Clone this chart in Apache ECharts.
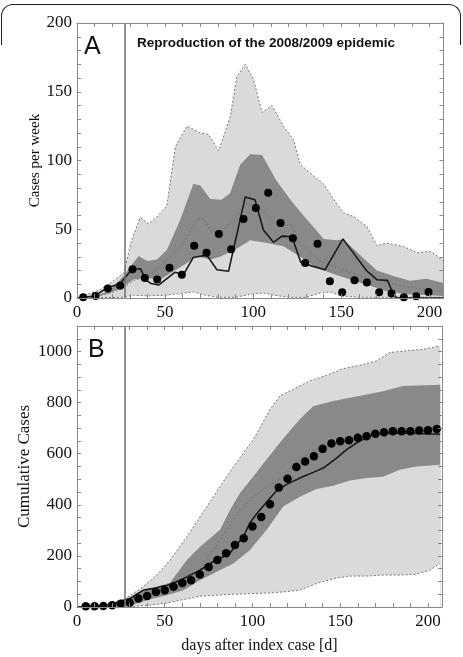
<!DOCTYPE html>
<html>
<head>
<meta charset="utf-8">
<script src="https://cdn.jsdelivr.net/npm/echarts@6/dist/echarts.min.js"></script>
<style>
html, body { margin: 0; padding: 0; background: #fff; }
#chart { width: 463px; height: 657px; }
.frame { position: absolute; left: 1px; top: 4px; width: 458px; height: 40px;
  border: 1.5px solid #222; border-bottom: none; border-radius: 12px 12px 0 0; pointer-events: none; }
</style>
</head>
<body>
<div id="chart"></div>
<div class="frame"></div>
<script>
// ---- panel A : cases per week ----
const weekDaysA = [3.5, 10.5, 17.5, 24.5, 31.5, 38.5, 45.5, 52.5, 59.5, 66.5, 73.5, 80.5, 87.5, 94.5, 101.5,
  108.5, 115.5, 122.5, 129.5, 136.5, 143.5, 150.5, 157.5, 164.5, 171.5, 178.5, 185.5, 192.5, 199.5];
const weeklyCases = [0.5, 1.5, 7, 9, 21, 14.5, 13.4, 22, 17, 38, 33, 46.5, 35.5, 57.5, 65.5,
  76.5, 54.5, 43.5, 25.5, 39.4, 12.2, 4.1, 12.9, 11.3, 4.1, 3.2, 0.5, 1.3, 4.3];

const simDaysA = [0, 10, 17, 24.5, 31, 36, 39, 42, 46.5, 55.5, 60.5, 66, 73.7, 79.4, 86, 95.5, 101, 105.8,
  111.5, 116.3, 122, 127, 134, 140.8, 150.9, 164.6, 170.2, 176.2, 179.2, 181.5, 208];
const simCasesA = [0, 1.5, 7.3, 10.5, 20.6, 21.3, 13.3, 10.5, 9.5, 18.7, 17.2, 29.5, 31.2, 20.6, 19.4, 73.5, 71.5, 49.5,
  40.5, 45, 44.5, 26, 23, 20.6, 43, 19.5, 13.3, 12.8, 3.6, 0, 0];

const medDaysA = [0, 10, 20, 27, 33, 41.6, 52.9, 60.5, 68, 71.8, 77.5, 82.2, 90.8, 96.4, 104, 111.5, 117.2, 121,
  126.7, 138, 153.2, 164.6, 174, 183.4, 192.9, 208];
const medCasesA = [0, 1, 4, 8, 13, 17, 30, 40, 57.5, 57.5, 47.5, 48.5, 59.5, 69, 64, 57, 52, 54,
  40, 27, 19.5, 14, 12, 9, 7, 4.5];

const hiOuterDaysA = [0, 13, 19, 26.5, 31, 35.9, 40.6, 45.4, 51, 55.8, 62.4, 69.9, 74.7, 80.4, 87, 90.7, 95.5, 100.2,
  105, 110.6, 117.2, 122.9, 126.7, 134.2, 139.9, 145.6, 151.2, 157.5, 164.5, 170.2, 175.8, 185.3, 192.8, 200.4, 205, 208];
const hiOuterA = [0, 6, 11, 18, 42, 58.5, 54, 59, 67, 110, 125, 120, 119, 107, 132, 161, 170, 159,
  135, 140, 125, 115, 97, 89, 83, 72, 62, 59, 52, 38, 40, 37.5, 33, 34, 30, 27];

const hiInnerDaysA = [0, 10, 18, 26.5, 31, 35, 39.8, 45.4, 51, 58.6, 66, 69.9, 75.6, 82, 86.8, 92.6, 98.3, 105,
  113.4, 122, 128.5, 134, 140, 147.5, 151, 155, 162.6, 170.2, 179.6, 189, 198.5, 208];
const hiInnerA = [0, 1.5, 5, 16, 24, 30.5, 27, 28, 35, 57, 83, 82, 72, 71.5, 76, 97, 104.5, 104,
  85, 70, 60, 52, 43, 42, 42.5, 38, 29, 20, 16, 12.5, 14, 11];

const loInnerDaysA = [0, 10, 18.9, 26.5, 32.2, 39.8, 47.3, 54.8, 62.4, 68, 75.6, 81.3, 90.8, 98.3, 107.8, 117.2,
  126.7, 136.1, 145.6, 155, 164.5, 175.8, 187.2, 198.5, 208];
const loInnerA = [0, 0.5, 3.6, 8.5, 13.4, 14.6, 13.4, 19.4, 25.5, 30.4, 28, 30, 36, 42, 40, 37.6,
  30, 22, 17.5, 13.5, 9.7, 5, 2.8, 2.2, 1.5];

const loOuterDaysA = [0, 26.5, 32, 40, 50, 58.6, 66, 73, 80, 90, 94.5, 100, 105.9, 112, 120, 130, 138, 143.7, 150, 160, 208];
const loOuterA = [0, 0.5, 2, 1.5, 2, 3.2, 4.4, 2, 0.5, 0.5, 1.7, 3, 3.6, 2, 0.5, 0.5, 3.6, 4.4, 1.5, 0.5, 0.5];

// ---- panel B : cumulative cases ----
const dotDaysB = [5, 10, 15, 20, 25, 30, 35, 40, 45, 50, 55, 60, 65, 70, 75, 80, 85, 90, 95, 100, 105,
  110, 115, 120, 125, 130, 135, 140, 145, 150, 155, 160, 165, 170, 175, 180, 185, 190, 195, 200, 205];
const cumCases = [2.6, 2.6, 3.9, 6.6, 13, 17, 33, 43, 59, 66, 79, 94, 105, 127, 157, 184, 210, 243, 269, 315, 352,
  402, 468, 502, 548, 570, 590, 619, 640, 649, 653, 663, 668, 678, 684, 688, 688, 688, 691, 692, 697];

const simDaysB = [0, 15, 20.9, 26.5, 30.3, 34, 37.9, 45.5, 49.3, 51.2, 58.8, 62.6, 70.1, 77.7, 81.5, 87.2, 94.8,
  98.6, 102.4, 108, 113.7, 119.5, 128.9, 134.6, 140.3, 147.9, 153.6, 159.3, 166.8, 174.4, 183.9, 207];
const simCumB = [0, 3, 13, 26, 33, 50, 66, 75, 83, 84, 105, 118, 144, 178, 190, 212, 275,
  330, 365, 410, 455, 480, 511, 527, 544, 583, 616, 642, 671, 679, 681, 676];

const medDaysB = [0, 20, 27, 35, 45, 53, 62.6, 70.1, 81.5, 91, 100.5, 108, 117.5, 127, 136.5, 147.9, 159.3, 170.7, 180, 207];
const medCumB = [0, 5, 15, 40, 60, 79, 105, 144, 262, 362, 430, 468, 512, 577, 616, 642, 662, 675, 680, 685];

const hiOuterDaysB = [0, 13.3, 26.5, 36, 45.5, 53, 62.6, 74, 85.3, 94.8, 100.5, 110, 115.6, 123.2, 132.7, 142.2,
  151.7, 161.1, 170.6, 178.2, 187.7, 197.2, 207];
const hiOuterB = [0, 6.6, 29, 70, 125, 184, 275, 393, 511, 603, 655, 773, 826, 852, 885, 907,
  933, 946, 963, 996, 1003, 1009, 1022];

const hiInnerDaysB = [0, 15, 26.5, 36, 45.5, 53, 62.6, 70, 81.5, 87.2, 92.9, 100.5, 108, 117.5, 127, 134.6, 146,
  160, 174.4, 185.8, 207];
const hiInnerB = [0, 5, 26, 59, 79, 95, 184, 235, 302, 380, 446, 511, 577, 660, 735, 786, 806,
  825, 845, 865, 870];

const loInnerDaysB = [0, 32.2, 41.7, 51.2, 60.7, 70.1, 79.6, 89.1, 98.6, 108, 117.5, 127, 136.5, 146, 155.5, 165,
  174.4, 183.9, 193.4, 207];
const loInnerB = [0, 10, 30, 46, 66, 105, 138, 170, 223, 301, 393, 432, 462, 475, 495, 505,
  510, 537, 550, 557];

const loOuterDaysB = [0, 30, 36, 41.7, 51.2, 60.7, 70.1, 81.5, 89.1, 110, 117.5, 127, 136.5, 146, 155.5, 165,
  174.4, 183.9, 193.4, 201, 207];
const loOuterB = [0, 0, 5, 7, 16, 29, 42, 47, 50, 55, 59, 66, 92, 111, 121, 121,
  125, 125, 128, 144, 170];

const indexDay = 27;

const zip = (xs, ys) => xs.map((x, i) => [x, ys[i]]);

const frameColor = '#8a8a8a';
const serif = 'Liberation Serif';

function xAxes(grid, name) {
  const base = {
    gridIndex: grid, type: 'value', min: 0, max: 208, interval: 10, z: 5,
    axisLine: { show: true, onZero: false, lineStyle: { color: frameColor, width: 1 } },
    axisTick: { show: true, inside: true, length: 4, lineStyle: { color: frameColor } },
    splitLine: { show: false }
  };
  return [
    Object.assign({}, base, {
      position: 'bottom',
      axisLabel: { formatter: v => (v % 50 === 0 ? String(v) : ''), color: '#111', fontFamily: serif, fontSize: 17, margin: 6 },
      name: name, nameLocation: 'middle', nameGap: 31, nameMoveOverlap: false,
      nameTextStyle: { fontFamily: serif, fontSize: 16, color: '#111' }
    }),
    Object.assign({}, base, { position: 'top', axisLabel: { show: false } })
  ];
}

function yAxes(grid, max, step, labelStep, name, gap, size) {
  const base = {
    gridIndex: grid, type: 'value', min: 0, max: max, interval: step, z: 5,
    axisLine: { show: true, onZero: false, lineStyle: { color: frameColor, width: 1 } },
    axisTick: { show: true, inside: true, length: 4, lineStyle: { color: frameColor } },
    splitLine: { show: false }
  };
  return [
    Object.assign({}, base, {
      position: 'left',
      axisLabel: { formatter: v => (v % labelStep === 0 ? String(v) : ''), color: '#111', fontFamily: serif, fontSize: 17, margin: 5 },
      name: name, nameLocation: 'middle', nameGap: gap, nameMoveOverlap: false,
      nameTextStyle: { fontFamily: serif, fontSize: size, color: '#111' }
    }),
    Object.assign({}, base, { position: 'right', axisLabel: { show: false } })
  ];
}

function panelSeries(xi, yi, p, dotSize) {
  const area = (data, color, line) => ({
    type: 'line', xAxisIndex: xi, yAxisIndex: yi, data: data, symbol: 'none', silent: true,
    lineStyle: line ? { color: '#777', width: 1, type: [2, 2] } : { width: 0 },
    areaStyle: { color: color, opacity: 1, origin: 'start' }
  });
  return [
    area(p.hiOuter, '#dadada', true),
    area(p.hiInner, '#898989', false),
    area(p.loInner, '#dadada', false),
    area(p.loOuter, '#ffffff', true),
    {
      type: 'line', xAxisIndex: xi, yAxisIndex: yi, data: p.median, symbol: 'none', silent: true,
      lineStyle: { color: '#6f6f6f', width: 1, type: [1.5, 2.5] }
    },
    {
      type: 'line', xAxisIndex: xi, yAxisIndex: yi, data: p.sim, symbol: 'none', silent: true,
      lineStyle: { color: '#1a1a1a', width: 1.6 },
      markLine: {
        silent: true, symbol: ['none', 'none'], label: { show: false },
        lineStyle: { color: '#707070', width: 1.5, type: 'solid' },
        data: [{ xAxis: indexDay }]
      }
    },
    {
      type: 'scatter', xAxisIndex: xi, yAxisIndex: yi, data: p.obs, symbolSize: dotSize,
      itemStyle: { color: '#000', opacity: 1 }, silent: true, z: 4
    }
  ];
}

const chart = echarts.init(document.getElementById('chart'));
chart.setOption({
  animation: false,
  backgroundColor: '#fff',
  title: [
    { text: 'A', left: 84, top: 35, padding: 0,
      textStyle: { fontFamily: 'Liberation Sans', fontSize: 25, fontWeight: 'normal', color: '#111' } },
    { text: 'Reproduction of the 2008/2009 epidemic', left: 137, top: 36, padding: 0,
      textStyle: { fontFamily: 'Liberation Sans', fontSize: 13.5, fontWeight: 'bold', color: '#111' } },
    { text: 'B', left: 88, top: 338, padding: 0,
      textStyle: { fontFamily: 'Liberation Sans', fontSize: 25, fontWeight: 'normal', color: '#111' } }
  ],
  grid: [
    { left: 77, right: 19.5, top: 23, bottom: 359 },
    { left: 77, right: 21, top: 326, bottom: 50 }
  ],
  xAxis: xAxes(0, '').concat(xAxes(1, 'days after index case [d]')),
  yAxis: yAxes(0, 200, 10, 50, 'Cases per week', 34, 15).concat(yAxes(1, 1100, 50, 200, 'Cumulative Cases', 44, 17)),
  series: panelSeries(0, 0, {
    hiOuter: zip(hiOuterDaysA, hiOuterA), hiInner: zip(hiInnerDaysA, hiInnerA),
    loInner: zip(loInnerDaysA, loInnerA), loOuter: zip(loOuterDaysA, loOuterA),
    median: zip(medDaysA, medCasesA), sim: zip(simDaysA, simCasesA), obs: zip(weekDaysA, weeklyCases)
  }, 8).concat(panelSeries(2, 2, {
    hiOuter: zip(hiOuterDaysB, hiOuterB), hiInner: zip(hiInnerDaysB, hiInnerB),
    loInner: zip(loInnerDaysB, loInnerB), loOuter: zip(loOuterDaysB, loOuterB),
    median: zip(medDaysB, medCumB), sim: zip(simDaysB, simCumB), obs: zip(dotDaysB, cumCases)
  }, 8.5))
});
window.addEventListener('resize', () => chart.resize());
</script>
</body>
</html>
